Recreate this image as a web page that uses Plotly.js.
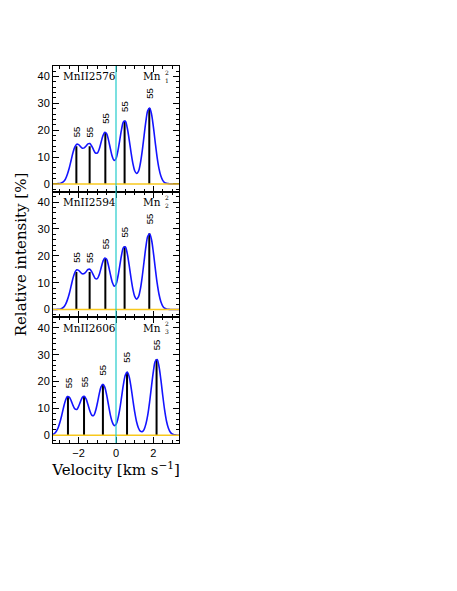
<!DOCTYPE html>
<html><head><meta charset="utf-8">
<script src="https://cdn.plot.ly/plotly-3.0.1.min.js"></script>
<style>html,body{margin:0;padding:0;background:#fff}</style>
</head><body>
<div id="chart" style="width:457px;height:591px"></div>
<script>
// Velocity grid (km/s) of the sampled profiles
const velocity = [-3.4,-3.3,-3.2,-3.1,-3.0,-2.9,-2.8,-2.7,-2.6,-2.5,-2.4,-2.3,-2.2,-2.1,-2.0,-1.9,-1.8,-1.7,-1.6,-1.5,-1.4,-1.3,-1.2,-1.1,-1.0,-0.9,-0.8,-0.7,-0.6,-0.5,-0.4,-0.3,-0.2,-0.1,0.0,0.1,0.2,0.3,0.4,0.5,0.6,0.7,0.8,0.9,1.0,1.1,1.2,1.3,1.4,1.5,1.6,1.7,1.8,1.9,2.0,2.1,2.2,2.3,2.4,2.5,2.6,2.7,2.8,2.9,3.0,3.1,3.2,3.3,3.4];
// Relative intensity [%]
const profile2576 = [0,0,0,0.1,0.1,0.4,0.9,1.9,3.6,5.9,8.8,11.7,13.8,14.8,14.6,13.9,13.3,13.4,14.1,14.9,15.0,14.1,12.7,11.5,11.5,12.9,15.4,17.9,19.2,18.7,16.3,13.1,10.2,8.7,9.4,12.2,16.3,20.4,23.1,23.3,20.9,16.7,11.9,7.7,4.9,3.9,4.7,7.5,12.1,17.8,23.4,27.3,28.2,26.0,21.2,15.4,9.9,5.7,2.9,1.3,0.5,0.2,0.1,0,0,0,0,0,0];
const profile2594 = [0,0,0,0.1,0.1,0.4,0.9,1.9,3.6,5.9,8.8,11.7,13.8,14.8,14.6,13.9,13.3,13.4,14.1,14.9,15.0,14.1,12.7,11.5,11.5,12.9,15.4,17.9,19.2,18.7,16.3,13.1,10.2,8.7,9.4,12.2,16.3,20.4,23.1,23.3,20.9,16.7,11.9,7.7,4.9,3.9,4.7,7.5,12.1,17.8,23.4,27.3,28.2,26.0,21.2,15.4,9.9,5.7,2.9,1.3,0.5,0.2,0.1,0,0,0,0,0,0];
const profile2606 = [0.2,0.6,1.4,2.7,4.8,7.5,10.5,13.0,14.4,14.2,12.9,11.1,9.8,9.6,10.7,12.5,14.1,14.5,13.5,11.4,9.1,7.5,7.3,8.9,11.8,15.3,18.0,19.0,17.9,15.0,11.2,7.5,4.9,3.6,4.0,6.1,9.6,14.3,19.0,22.4,23.5,21.9,18.1,13.3,8.7,5.0,2.7,1.5,1.3,2.1,4.2,7.6,12.5,18.3,23.8,27.5,28.2,25.6,20.7,14.8,9.4,5.3,2.7,1.2,0.5,0.2,0.1,0,0];

// Components (velocity, relative strength) and their labels
const compVel12 = [-2.12,-1.41,-0.57,0.46,1.78];
const compAmp12 = [14,14,19,23.5,28.3];
const compVel3 = [-2.57,-1.71,-0.70,0.59,2.17];
const compAmp3 = [14.3,14.3,19,23.5,28.3];
const compLabels = ['55','55','55','55','55'];

const panelNames = ['MnII2576','MnII2594','MnII2606'];
const panelSub = ['1','2','3'];
const xTickVals = [-2,0,2];
const yTickVals = [0,10,20,30,40];

const profiles = [profile2576, profile2594, profile2606];
const compVels = [compVel12, compVel12, compVel3];
const compAmps = [compAmp12, compAmp12, compAmp3];

const traces = [];
const annotations = [];
const shapes = [];
const layout = {
  width: 457, height: 591,
  margin: {l: 53, r: 278, t: 66, b: 148},
  paper_bgcolor: '#fff', plot_bgcolor: '#fff',
  showlegend: false,
  font: {family: 'Liberation Sans, Arial, sans-serif', size: 11, color: '#000'}
};
const domains = [[2/3, 1], [1/3, 2/3], [0, 1/3]];

for (let p = 0; p < 3; p++) {
  const sx = p === 0 ? '' : String(p + 1);
  const xa = 'x' + sx, ya = 'y' + sx;
  // sticks
  const sxv = [], syv = [];
  compVels[p].forEach((v, i) => { sxv.push(v, v, null); syv.push(0, compAmps[p][i], null); });
  traces.push({x: sxv, y: syv, xaxis: xa, yaxis: ya, mode: 'lines',
    line: {color: '#000', width: 2}, hoverinfo: 'skip'});
  // profile
  traces.push({x: velocity, y: profiles[p], xaxis: xa, yaxis: ya, mode: 'lines',
    line: {color: '#1414ff', width: 1.6, shape: 'spline', smoothing: 0.9}});
  // labels above sticks
  compVels[p].forEach((v, i) => {
    annotations.push({x: v, y: compAmps[p][i] + 5.4, xref: xa, yref: ya, text: compLabels[i],
      textangle: -90, showarrow: false, xanchor: 'center', yanchor: 'middle',
      font: {family: 'Liberation Sans, Arial, sans-serif', size: 9.5, color: '#000'}});
  });
  annotations.push({x: 0.06, y: 0.917, xref: xa + ' domain', yref: ya + ' domain', text: panelNames[p],
    showarrow: false, xanchor: 'left', yanchor: 'middle',
    font: {family: 'DejaVu Serif, serif', size: 10.5, color: '#000'}});
  annotations.push({x: 0.875, y: 0.917, xref: xa + ' domain', yref: ya + ' domain', text: 'Mn',
    showarrow: false, xanchor: 'right', yanchor: 'middle',
    font: {family: 'DejaVu Serif, serif', size: 10.5, color: '#000'}});
  annotations.push({x: 0.875, y: 0.92, xref: xa + ' domain', yref: ya + ' domain',
    text: '2<br>' + panelSub[p],
    showarrow: false, xanchor: 'left', yanchor: 'middle', align: 'left',
    font: {family: 'DejaVu Serif, serif', size: 6, color: '#000'}});
  // baseline and zero-velocity line
  shapes.push({type: 'line', xref: xa + ' domain', yref: ya, x0: 0, x1: 1, y0: 0, y1: 0,
    line: {color: '#f8c81c', width: 1.5}, layer: 'above'});
  shapes.push({type: 'line', xref: xa, yref: ya + ' domain', x0: 0, x1: 0, y0: 0, y1: 1,
    line: {color: '#22cccc', width: 1.2}, layer: 'above'});

  const xax = {
    domain: [0, 1], anchor: ya, range: [-3.37, 3.37],
    showline: true, linecolor: '#000', linewidth: 1, mirror: 'allticks',
    ticks: 'inside', ticklen: 6, tickwidth: 1, tickcolor: '#000',
    tickvals: xTickVals, ticktext: xTickVals.map(v => v < 0 ? '\u2212' + Math.abs(v) : String(v)),
    showticklabels: p === 2, showgrid: false, zeroline: false,
    minor: {dtick: 0.5, tick0: 0, ticklen: 3, tickcolor: '#000', tickwidth: 1, ticks: 'inside', showgrid: false},
    tickfont: {size: 11}
  };
  if (p > 0) xax.matches = 'x';
  layout['xaxis' + sx] = xax;
  layout['yaxis' + sx] = {
    domain: domains[p], anchor: xa, range: [-2.9, 43.9],
    showline: true, linecolor: '#000', linewidth: 1, mirror: 'allticks',
    ticks: 'inside', ticklen: 6, tickwidth: 1, tickcolor: '#000',
    tickvals: yTickVals, showgrid: false, zeroline: false,
    minor: {dtick: 2, tick0: 0, ticklen: 3, tickcolor: '#000', tickwidth: 1, ticks: 'inside', showgrid: false},
    tickfont: {size: 11}
  };
}
layout.xaxis3.title = {text: 'Velocity [km s<sup>\u22121</sup>]', standoff: 2,
  font: {family: 'DejaVu Serif, serif', size: 15, color: '#000'}};
layout.yaxis2.title = {text: 'Relative intensity [%]', standoff: 7,
  font: {family: 'DejaVu Serif, serif', size: 15, color: '#000'}};
layout.annotations = annotations;
layout.shapes = shapes;

Plotly.newPlot('chart', traces, layout, {staticPlot: true, displayModeBar: false});
</script>
</body></html>
